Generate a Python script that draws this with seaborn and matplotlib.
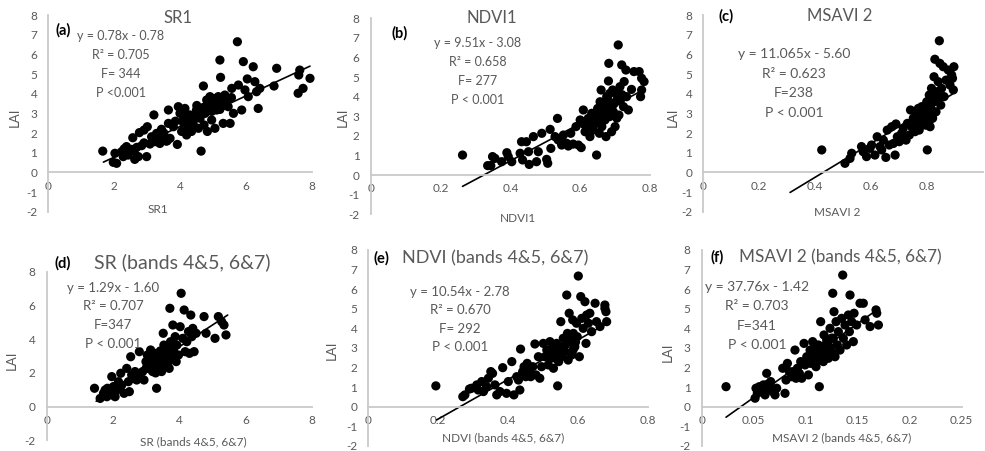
import matplotlib
matplotlib.use("Agg")
import matplotlib.pyplot as plt
import seaborn as sns

W, H = 985, 451

# ---------------- data ----------------
sr1_x = [1.65, 1.97, 2.02, 2.07, 2.22, 2.27, 2.37, 2.42, 2.52, 2.56, 2.62, 2.68, 2.73, 2.76, 2.83, 2.90, 2.98, 3.00,
         3.08, 3.13, 3.20, 3.23, 3.28, 3.33, 3.38, 3.43, 3.48, 3.57, 3.64, 3.64, 3.69, 3.79, 3.91, 3.94, 3.99, 4.04,
         4.09, 4.14, 4.19, 4.24, 4.29, 4.34, 4.39, 4.49, 4.55, 4.60, 4.63, 4.70, 4.72, 4.75, 4.80, 4.82, 4.88, 4.90,
         4.95, 5.00, 5.05, 5.10, 5.15, 5.20, 5.22, 5.25, 5.30, 5.35, 5.45, 5.51, 5.56, 5.61, 5.73, 5.76, 5.86, 5.91,
         5.96, 6.03, 6.06, 6.21, 6.26, 6.31, 6.36, 6.41, 6.84, 6.92, 7.57, 7.62, 7.72, 7.93, 7.59,
         4.50, 4.60, 5.00, 5.30, 5.20, 4.30, 3.60, 3.40, 2.30, 2.90, 4.85, 5.05, 4.45, 5.40,
         4.70, 4.95, 5.15, 4.20, 3.85, 3.30, 2.60, 5.55, 4.10, 3.50]
sr1_lai = [1.08, 0.51, 0.97, 0.46, 1.05, 0.80, 1.31, 0.88, 1.17, 1.76, 0.66, 1.27, 0.80, 2.02, 1.36, 2.15, 0.80, 2.32,
           1.44, 1.81, 2.92, 1.56, 1.98, 1.68, 1.47, 2.19, 1.64, 1.59, 3.17, 2.49, 1.73, 2.32, 1.42, 3.34, 3.00, 2.08,
           2.66, 3.25, 1.90, 2.32, 2.92, 2.08, 2.49, 3.17, 2.24, 2.75, 1.08, 4.39, 2.41, 3.00, 3.68, 2.08, 3.25, 3.85,
           2.66, 3.59, 2.24, 3.17, 3.85, 5.71, 4.83, 3.51, 2.49, 3.93, 3.34, 2.49, 4.27, 3.00, 6.64, 4.44, 3.17, 5.63,
           4.19, 4.75, 3.85, 5.37, 4.61, 4.10, 3.25, 4.27, 4.39, 5.29, 4.02, 5.20, 4.27, 4.78, 4.95,
           3.40, 3.00, 3.30, 3.40, 3.20, 2.60, 1.60, 1.70, 1.20, 1.50, 3.45, 3.75, 2.80, 3.60,
           3.30, 3.10, 3.50, 2.90, 2.60, 1.90, 1.10, 3.80, 2.50, 2.00]
sr1_fit_x = [1.67, 7.93]
sr1_fit_y = [0.52, 5.40]

ndvi1_x = [0.263, 0.335, 0.344, 0.349, 0.356, 0.375, 0.390, 0.394, 0.404, 0.428, 0.432, 0.435, 0.446, 0.452, 0.454,
           0.466, 0.475, 0.480, 0.490, 0.504, 0.507, 0.514, 0.516, 0.528, 0.535, 0.537, 0.547, 0.552, 0.561, 0.566,
           0.573, 0.580, 0.588, 0.595, 0.600, 0.603, 0.609, 0.614, 0.619, 0.623, 0.628, 0.633, 0.638, 0.643, 0.647,
           0.650, 0.655, 0.657, 0.660, 0.662, 0.666, 0.671, 0.674, 0.676, 0.681, 0.682, 0.684, 0.685, 0.690, 0.693,
           0.695, 0.700, 0.705, 0.709, 0.711, 0.714, 0.719, 0.724, 0.726, 0.731, 0.733, 0.738, 0.747, 0.754, 0.769,
           0.773, 0.776, 0.783, 0.776, 0.671, 0.685, 0.690, 0.700, 0.660, 0.640, 0.700, 0.720,
           0.610, 0.630, 0.650, 0.668, 0.678, 0.695, 0.705, 0.715, 0.545, 0.560]
ndvi1_lai = [1.02, 0.48, 0.48, 0.94, 0.85, 0.68, 1.14, 0.94, 0.68, 1.11, 1.70, 0.77, 1.70, 1.19, 0.54,
             1.96, 0.68, 1.19, 2.13, 0.80, 0.60, 2.33, 1.36, 1.96, 2.89, 1.79, 1.53, 2.04, 1.62, 1.48,
             2.13, 1.58, 2.47, 1.53, 2.81, 1.40, 3.32, 2.21, 2.47, 2.89, 1.96, 3.15, 2.30, 2.64, 1.02,
             3.06, 2.13, 3.74, 4.34, 2.47, 3.32, 2.81, 1.96, 4.00, 4.80, 5.70, 2.98, 3.57, 2.21, 4.34,
             3.23, 2.47, 3.83, 6.64, 3.06, 4.51, 5.62, 3.49, 4.77, 5.36, 4.00, 3.32, 4.37, 5.28, 5.28,
             4.00, 4.94, 4.77, 4.34, 3.66, 4.17, 3.30, 3.70, 2.80, 2.90, 4.20, 4.10,
             2.60, 2.70, 3.40, 3.10, 3.90, 3.60, 2.90, 3.80, 1.70, 1.60]
ndvi1_fit_x = [0.263, 0.776]
ndvi1_fit_y = [-0.58, 4.30]

msavi_x = [0.423, 0.506, 0.524, 0.530, 0.565, 0.571, 0.583, 0.595, 0.601, 0.613, 0.621, 0.631, 0.637, 0.643, 0.652,
           0.657, 0.664, 0.673, 0.679, 0.685, 0.688, 0.693, 0.700, 0.708, 0.714, 0.724, 0.729, 0.736, 0.740, 0.744,
           0.750, 0.756, 0.760, 0.764, 0.768, 0.771, 0.776, 0.780, 0.783, 0.788, 0.792, 0.798, 0.800, 0.804, 0.807,
           0.810, 0.812, 0.815, 0.819, 0.821, 0.824, 0.827, 0.831, 0.833, 0.839, 0.843, 0.845, 0.848, 0.851, 0.857,
           0.860, 0.867, 0.875, 0.881, 0.887, 0.890, 0.893, 0.895, 0.790, 0.800, 0.815, 0.825, 0.770, 0.835, 0.805,
           0.780, 0.795, 0.810, 0.820, 0.840, 0.760]
msavi_lai = [1.14, 0.46, 0.71, 0.97, 1.31, 1.05, 0.80, 1.22, 1.39, 0.88, 1.81, 1.31, 1.14, 1.64, 0.76,
             2.15, 1.39, 2.32, 1.47, 0.88, 2.46, 1.81, 1.56, 1.98, 2.24, 1.64, 2.49, 1.90, 3.17, 2.32,
             2.75, 2.07, 3.00, 2.49, 3.25, 2.15, 2.83, 3.34, 2.41, 3.08, 2.66, 3.59, 1.14, 2.92, 3.93,
             2.32, 3.34, 4.27, 2.75, 3.68, 4.86, 5.75, 3.08, 4.10, 4.61, 6.69, 5.54, 3.42, 4.27, 5.37,
             3.85, 4.69, 5.20, 4.44, 4.95, 4.78, 4.19, 5.37, 2.90, 3.20, 3.00, 3.60, 2.60, 3.90, 2.50,
             2.90, 2.40, 3.50, 2.95, 3.70, 2.30]
msavi_fit_x = [0.310, 0.890]
msavi_fit_y = [-1.02, 3.98]

sr2_x = [1.44, 1.61, 1.71, 1.76, 1.81, 1.83, 1.91, 1.96, 2.01, 2.06, 2.11, 2.16, 2.23, 2.26, 2.33, 2.41, 2.46, 2.49,
         2.53, 2.56, 2.61, 2.66, 2.71, 2.79, 2.81, 2.89, 2.93, 2.99, 3.03, 3.06, 3.11, 3.13, 3.16, 3.19, 3.23, 3.26,
         3.29, 3.31, 3.33, 3.36, 3.39, 3.43, 3.46, 3.49, 3.51, 3.53, 3.56, 3.59, 3.63, 3.66, 3.69, 3.71, 3.73, 3.77,
         3.80, 3.82, 3.87, 3.90, 3.92, 3.97, 4.02, 4.05, 4.10, 4.14, 4.17, 4.22, 4.27, 4.30, 4.34, 4.37, 4.40, 4.44,
         4.50, 4.74, 4.80, 5.07, 5.17, 5.27, 5.34, 5.40, 3.20, 3.30, 3.40, 3.50, 3.60, 3.10, 3.35, 3.45,
         3.15, 3.25, 3.38, 3.48, 3.55, 3.65, 3.70, 3.05, 3.00, 3.42, 3.58, 3.28, 1.95, 2.05, 2.20]
sr2_lai = [1.09, 0.49, 0.79, 0.99, 0.59, 1.09, 0.89, 1.78, 1.19, 0.59, 0.99, 1.48, 1.98, 1.28, 0.79, 2.27, 1.48, 0.89,
           2.96, 1.88, 1.68, 2.08, 1.58, 3.26, 1.78, 2.08, 1.58, 2.67, 3.06, 2.27, 2.57, 3.36, 2.87, 2.08, 2.47, 3.16,
           2.77, 1.09, 2.27, 2.96, 2.57, 3.26, 2.08, 2.87, 4.35, 3.65, 2.47, 3.16, 2.77, 3.46, 2.27, 5.83, 3.85, 2.96,
           4.84, 3.36, 4.15, 2.67, 3.65, 3.06, 4.74, 6.72, 4.05, 5.73, 3.26, 3.85, 4.45, 3.16, 5.43, 4.15, 4.64, 3.26,
           4.35, 5.34, 4.35, 4.05, 5.34, 5.04, 4.84, 4.25, 2.70, 2.90, 2.50, 3.00, 3.20, 2.40, 2.60, 3.10,
           2.20, 3.00, 2.80, 2.30, 3.40, 2.60, 3.00, 2.50, 2.30, 3.30, 3.60, 2.00, 0.70, 0.80, 1.10]
sr2_fit_x = [1.49, 5.45]
sr2_fit_y = [0.32, 5.43]

ndvi2_x = [0.193, 0.270, 0.276, 0.289, 0.295, 0.310, 0.314, 0.324, 0.329, 0.338, 0.343, 0.350, 0.355, 0.362, 0.367,
           0.376, 0.384, 0.395, 0.400, 0.410, 0.416, 0.424, 0.429, 0.433, 0.435, 0.441, 0.445, 0.450, 0.454, 0.460,
           0.464, 0.470, 0.476, 0.479, 0.486, 0.490, 0.495, 0.500, 0.505, 0.510, 0.514, 0.519, 0.522, 0.527, 0.529,
           0.533, 0.538, 0.541, 0.544, 0.548, 0.550, 0.552, 0.557, 0.562, 0.567, 0.569, 0.571, 0.574, 0.576, 0.581,
           0.584, 0.586, 0.590, 0.595, 0.597, 0.600, 0.603, 0.607, 0.610, 0.614, 0.619, 0.622, 0.624, 0.629, 0.633,
           0.638, 0.648, 0.652, 0.662, 0.676, 0.679, 0.681, 0.676, 0.560, 0.575, 0.585, 0.545,
           0.530, 0.555, 0.565, 0.580, 0.592, 0.515, 0.540]
ndvi2_lai = [1.06, 0.51, 0.60, 0.90, 0.94, 1.11, 0.85, 1.28, 0.77, 1.02, 1.45, 1.79, 1.70, 1.11, 0.60,
             0.77, 1.99, 0.68, 1.28, 2.30, 0.60, 1.53, 1.36, 0.85, 2.94, 1.79, 2.04, 1.53, 2.21, 1.79,
             1.53, 2.04, 3.20, 1.62, 2.55, 1.45, 2.04, 3.23, 2.55, 2.89, 2.13, 3.32, 2.47, 2.98, 1.96,
             2.72, 3.23, 1.06, 2.30, 2.98, 4.34, 2.55, 3.49, 2.81, 5.70, 3.74, 2.38, 4.77, 3.32, 2.64,
             4.43, 3.74, 3.06, 4.26, 3.57, 6.67, 2.55, 5.62, 4.51, 4.00, 5.36, 3.23, 4.68, 4.26, 4.77,
             3.83, 5.28, 4.34, 4.09, 5.19, 4.85, 4.34, 5.02, 3.10, 3.40, 2.90, 2.70,
             3.00, 2.85, 3.20, 3.60, 3.30, 2.70, 2.40]
ndvi2_fit_x = [0.195, 0.682]
ndvi2_fit_y = [-0.68, 4.25]

msavi2_x = [0.0234, 0.0513, 0.0522, 0.0535, 0.0554, 0.0577, 0.0593, 0.0609, 0.0625, 0.0631, 0.0651, 0.0663, 0.0683,
            0.0705, 0.0721, 0.0779, 0.0801, 0.0811, 0.0824, 0.0843, 0.0865, 0.0881, 0.0897, 0.0907, 0.0920, 0.0939,
            0.0952, 0.0962, 0.0984, 0.0994, 0.1010, 0.1026, 0.1042, 0.1048, 0.1067, 0.1074, 0.1090, 0.1099, 0.1122,
            0.1131, 0.1138, 0.1144, 0.1154, 0.1170, 0.1176, 0.1196, 0.1202, 0.1218, 0.1228, 0.1234, 0.1250, 0.1260,
            0.1266, 0.1272, 0.1282, 0.1292, 0.1304, 0.1314, 0.1330, 0.1346, 0.1356, 0.1362, 0.1378, 0.1394, 0.1410,
            0.1420, 0.1426, 0.1442, 0.1458, 0.1465, 0.1490, 0.1522, 0.1554, 0.1571, 0.1619, 0.1676, 0.1683, 0.1699,
            0.1100, 0.1150, 0.1200, 0.1050, 0.1250, 0.1180, 0.1130, 0.1080, 0.0600, 0.0660]
msavi2_lai = [1.02, 0.43, 0.94, 0.68, 1.02, 0.85, 1.11, 0.60, 1.70, 1.14, 0.94, 1.28, 0.77,
              0.60, 0.94, 1.96, 0.68, 1.36, 2.21, 1.79, 1.53, 1.79, 2.89, 1.45, 1.96, 1.70,
              2.30, 1.45, 3.23, 2.13, 2.55, 1.62, 2.89, 2.21, 3.32, 2.47, 2.81, 2.04, 3.15,
              1.02, 2.55, 4.34, 3.06, 2.30, 3.66, 2.72, 3.40, 2.47, 3.06, 4.00, 2.81, 5.79,
              3.49, 4.85, 2.55, 4.34, 3.15, 3.83, 2.89, 4.51, 6.72, 3.49, 4.17, 3.15, 4.68,
              3.83, 5.70, 4.34, 3.32, 4.77, 4.17, 5.28, 5.28, 4.43, 4.09, 4.94, 4.77, 4.17,
              2.80, 3.00, 3.20, 2.60, 3.50, 2.70, 2.40, 3.00, 0.80, 1.00]
msavi2_fit_x = [0.0234, 0.170]
msavi2_fit_y = [-0.54, 5.00]

# titles / labels / statistics text
letters = ["(a)", "(b)", "(c)", "(d)", "(e)", "(f)"]
titles = ["SR1", "NDVI1", "MSAVI 2", "SR (bands 4&5, 6&7)", "NDVI (bands 4&5, 6&7)", "MSAVI 2 (bands 4&5, 6&7)"]
xlabels = ["SR1", "NDVI1", "MSAVI 2", "SR (bands 4&5, 6&7)", "NDVI (bands 4&5, 6&7)", "MSAVI 2 (bands 4&5, 6&7)"]
equations = ["y = 0.78x - 0.78", "y = 9.51x - 3.08", "y = 11.065x - 5.60",
             "y = 1.29x - 1.60", "y = 10.54x - 2.78", "y = 37.76x - 1.42"]
r2_texts = ["R² = 0.705", "R² = 0.658", "R² = 0.623", "R² = 0.707", "R² = 0.670", "R² = 0.703"]
f_texts = ["F= 344", "F= 277", "F=238", "F=347", "F= 292", "F=341"]
p_texts = ["P <0.001", "P < 0.001", "P < 0.001", "P < 0.001", "P < 0.001", "P < 0.001"]

xticks_sr = [0, 2, 4, 6, 8]
xticklabels_sr = ["0", "2", "4", "6", "8"]
xticks_nd = [0, 0.2, 0.4, 0.6, 0.8]
xticklabels_nd = ["0", "0.2", "0.4", "0.6", "0.8"]
xticks_ms2 = [0, 0.05, 0.1, 0.15, 0.2, 0.25]
xticklabels_ms2 = ["0", "0.05", "0.1", "0.15", "0.2", "0.25"]
yticks_1 = [-2, -1, 0, 1, 2, 3, 4, 5, 6, 7, 8]
yticks_2 = [-2, 0, 2, 4, 6, 8]

# ---------------- styling ----------------
sns.set_theme(style="white")
plt.rcParams['font.family'] = ['Lato', 'DejaVu Sans']

GRAY = '#595959'
AXC = '#c9c9c9'

fig = plt.figure(figsize=(W / 100, H / 100), dpi=100)
fig.patch.set_facecolor('white')


def px_box(x0, x1, ytop, ybot):
    return [x0 / W, 1 - ybot / H, (x1 - x0) / W, (ybot - ytop) / H]


def ftext(x, y, s, **kw):
    fig.text(x / W, 1 - y / H, s, ha='center', va='center', **kw)


panels = [
    dict(x=sr1_x, y=sr1_lai, fx=sr1_fit_x, fy=sr1_fit_y, box=(48.3, 312.3, 15, 211.7), xlim=(0, 8),
         xt=xticks_sr, xtl=xticklabels_sr, yt=yticks_1,
         letter=(63, 30), title=(178, 18, 12), stats=(121, 36, 19, 9), xl=(158, 210), yl=(15, 117)),
    dict(x=ndvi1_x, y=ndvi1_lai, fx=ndvi1_fit_x, fy=ndvi1_fit_y, box=(370.7, 650, 18.3, 214.2), xlim=(0, 0.8),
         xt=xticks_nd, xtl=xticklabels_nd, yt=yticks_1,
         letter=(400, 33), title=(492, 18, 12), stats=(478, 43, 19, 9), xl=(518, 218), yl=(343, 117)),
    dict(x=msavi_x, y=msavi_lai, fx=msavi_fit_x, fy=msavi_fit_y, box=(703.3, 983.3, 15, 211.7), xlim=(0, 1.0),
         xt=xticks_nd, xtl=xticklabels_nd, yt=yticks_1,
         letter=(726, 16), title=(840, 16, 12), stats=(794, 54, 19.7, 10), xl=(837, 213), yl=(673, 117)),
    dict(x=sr2_x, y=sr2_lai, fx=sr2_fit_x, fy=sr2_fit_y, box=(46.7, 312.3, 271.7, 440.4), xlim=(0, 8),
         xt=xticks_sr, xtl=xticklabels_sr, yt=yticks_2,
         letter=(63, 263), title=(182, 262, 14), stats=(113, 288, 18.5, 9.5), xl=(193, 442), yl=(12, 360)),
    dict(x=ndvi2_x, y=ndvi2_lai, fx=ndvi2_fit_x, fy=ndvi2_fit_y, box=(368.3, 648.3, 250, 445.8), xlim=(0, 0.8),
         xt=xticks_nd, xtl=xticklabels_nd, yt=yticks_1,
         letter=(381, 258), title=(495, 258, 13), stats=(460, 292, 18.3, 9.5), xl=(503, 438), yl=(332, 350)),
    dict(x=msavi2_x, y=msavi2_lai, fx=msavi2_fit_x, fy=msavi2_fit_y, box=(701.7, 961.7, 250, 445.8), xlim=(0, 0.25),
         xt=xticks_ms2, xtl=xticklabels_ms2, yt=yticks_1,
         letter=(717, 257), title=(840, 257, 12.3), stats=(757, 287, 19.3, 10), xl=(842, 438), yl=(668, 352)),
]

for i, p in enumerate(panels):
    ax = fig.add_axes(px_box(*p['box']))
    ax.set_facecolor('none')
    sns.scatterplot(x=p['x'], y=p['y'], ax=ax, color='black', s=44, edgecolor='none', linewidth=0, legend=False)
    for c in ax.collections:
        c.set_clip_on(False)
    sns.lineplot(x=p['fx'], y=p['fy'], ax=ax, color='black', linewidth=1.2)
    ax.set_xlim(*p['xlim'])
    ax.set_ylim(-2, 8)
    ax.set_xticks(p['xt'])
    ax.set_xticklabels(p['xtl'])
    ax.set_yticks(p['yt'])
    ax.set_yticklabels([str(v) for v in p['yt']])
    ax.set_xlabel('')
    ax.set_ylabel('')
    for s in ('top', 'right'):
        ax.spines[s].set_visible(False)
    ax.spines['left'].set_color(AXC)
    ax.spines['left'].set_linewidth(1.3)
    ax.spines['bottom'].set_position(('data', 0))
    ax.spines['bottom'].set_color(AXC)
    ax.spines['bottom'].set_linewidth(1.3)
    ax.tick_params(axis='both', length=0, labelsize=8.5, labelcolor=GRAY)
    ax.tick_params(axis='x', pad=6)
    ax.tick_params(axis='y', pad=8)

    lx, ly = p['letter']
    ftext(lx, ly, letters[i], fontsize=10.5, fontweight='bold', color='black')
    tx, ty, ts = p['title']
    ftext(tx, ty, titles[i], fontsize=ts, color=GRAY)
    sx, sy, sd, ss = p['stats']
    for k, line in enumerate([equations[i], r2_texts[i], f_texts[i], p_texts[i]]):
        ftext(sx, sy + k * sd, line, fontsize=ss, color=GRAY)
    xx, xy = p['xl']
    ftext(xx, xy, xlabels[i], fontsize=8.5, color=GRAY)
    yx, yy = p['yl']
    ftext(yx, yy, "LAI", fontsize=9.5, color=GRAY, rotation=90)

fig.savefig("out.png", dpi=100, facecolor='white')
